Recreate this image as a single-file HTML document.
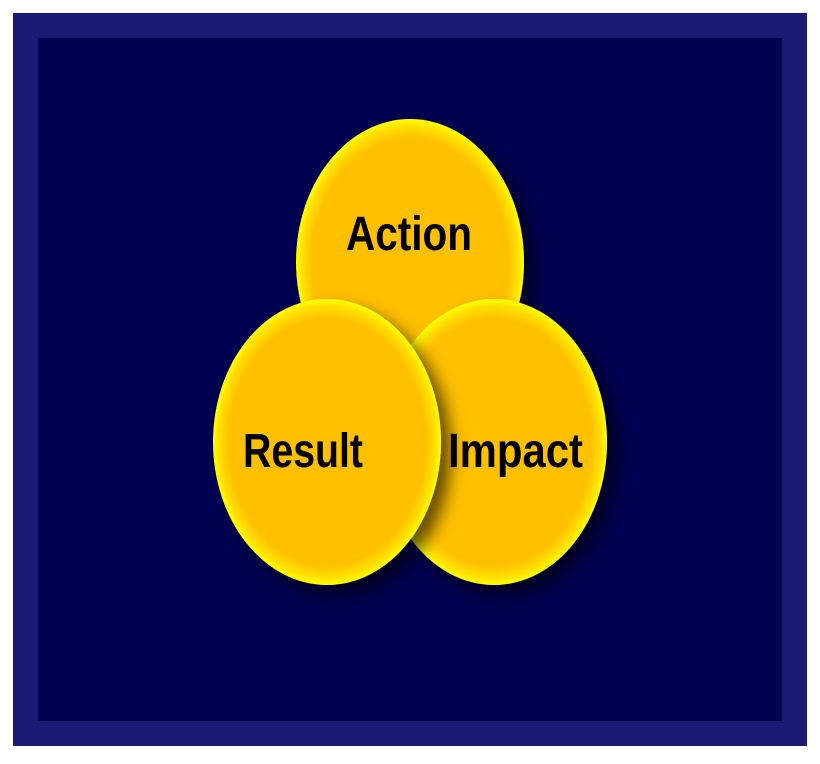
<!DOCTYPE html>
<html><head><style>html,body{margin:0;padding:0;background:#fff}</style></head><body>
<svg width="820" height="759" viewBox="0 0 820 759" xmlns="http://www.w3.org/2000/svg">
<defs>
<radialGradient id="g" cx="50%" cy="50%" r="50%">
<stop offset="0" stop-color="#ffc000"/>
<stop offset="0.86" stop-color="#ffc000"/>
<stop offset="0.95" stop-color="#ffe000"/>
<stop offset="1" stop-color="#ffff00"/>
</radialGradient>
<filter id="s" x="-30%" y="-30%" width="160%" height="160%">
<feGaussianBlur in="SourceAlpha" stdDeviation="8"/>
<feOffset dx="10" dy="10" result="b"/>
<feFlood flood-color="#000" flood-opacity="0.6"/>
<feComposite in2="b" operator="in"/>
<feMerge><feMergeNode/><feMergeNode in="SourceGraphic"/></feMerge>
</filter>
</defs>
<rect x="13" y="13" width="794" height="733" fill="#1b1a74"/>
<rect x="38" y="38" width="744" height="683" fill="#000050"/>
<ellipse cx="410" cy="262" rx="114" ry="143" fill="url(#g)" filter="url(#s)"/>
<ellipse cx="494" cy="442" rx="113" ry="143" fill="url(#g)" filter="url(#s)"/>
<ellipse cx="327" cy="442" rx="114" ry="143" fill="url(#g)" filter="url(#s)"/>
<g font-family="Liberation Sans Narrow, Liberation Sans, sans-serif" font-weight="bold" font-size="48" fill="#000">
<text x="346" y="250" textLength="126" lengthAdjust="spacingAndGlyphs">Action</text>
<text x="243" y="467" textLength="120" lengthAdjust="spacingAndGlyphs">Result</text>
<text x="448" y="467" textLength="135" lengthAdjust="spacingAndGlyphs">Impact</text>
</g>
</svg>
</body></html>
